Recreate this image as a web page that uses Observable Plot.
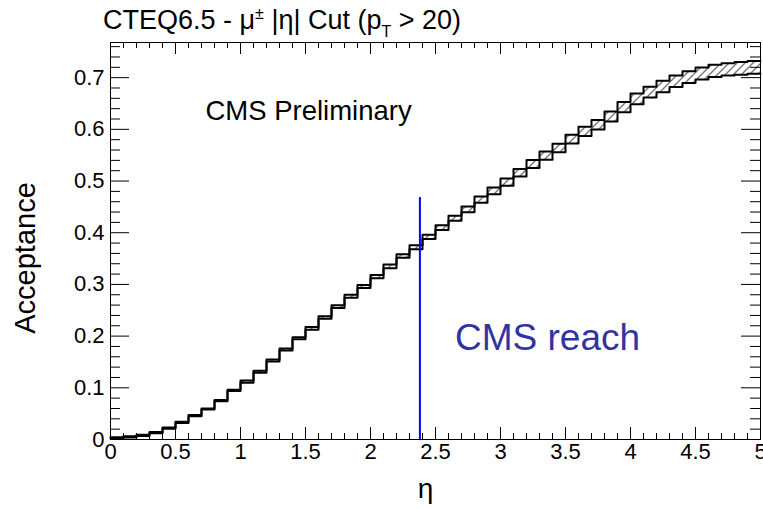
<!DOCTYPE html>
<html>
<head>
<meta charset="utf-8">
<script src="https://cdn.jsdelivr.net/npm/d3@7"></script>
<script src="https://cdn.jsdelivr.net/npm/@observablehq/plot@0.6"></script>
<style>
  html, body { margin: 0; padding: 0; background: #fff; }
  #chart svg { display: block; }
</style>
</head>
<body>
<div id="chart"></div>
<script>
// Muon acceptance vs |eta| cut, CTEQ6.5 PDF uncertainty band (upper / lower edges per bin)
const etaLow = [
  0.0, 0.1, 0.2, 0.3, 0.4, 0.5, 0.6, 0.7, 0.8, 0.9,
  1.0, 1.1, 1.2, 1.3, 1.4, 1.5, 1.6, 1.7, 1.8, 1.9,
  2.0, 2.1, 2.2, 2.3, 2.4, 2.5, 2.6, 2.7, 2.8, 2.9,
  3.0, 3.1, 3.2, 3.3, 3.4, 3.5, 3.6, 3.7, 3.8, 3.9,
  4.0, 4.1, 4.2, 4.3, 4.4, 4.5, 4.6, 4.7, 4.8, 4.9
];
const etaMax = 5.0;

const upper = [
  0.0042, 0.0062, 0.0092, 0.0147, 0.0232, 0.0342, 0.0472, 0.0602, 0.0762, 0.0962,
  0.1140, 0.1330, 0.1550, 0.1760, 0.1980, 0.2175, 0.2385, 0.2595, 0.2800, 0.2990,
  0.3180, 0.3385, 0.3585, 0.3760, 0.3960, 0.4145, 0.4330, 0.4505, 0.4700, 0.4875,
  0.5050, 0.5233, 0.5406, 0.5570, 0.5723, 0.5896, 0.6050, 0.6183, 0.6346, 0.6530,
  0.6693, 0.6826, 0.6940, 0.7042, 0.7124, 0.7196, 0.7248, 0.7280, 0.7302, 0.7324
];
const lower = [
  0.0018, 0.0038, 0.0068, 0.0123, 0.0208, 0.0318, 0.0448, 0.0578, 0.0738, 0.0938,
  0.1100, 0.1290, 0.1510, 0.1720, 0.1940, 0.2125, 0.2335, 0.2545, 0.2740, 0.2930,
  0.3120, 0.3315, 0.3515, 0.3680, 0.3880, 0.4055, 0.4230, 0.4395, 0.4580, 0.4745,
  0.4910, 0.5087, 0.5254, 0.5410, 0.5557, 0.5724, 0.5870, 0.5997, 0.6154, 0.6330,
  0.6487, 0.6614, 0.6720, 0.6818, 0.6896, 0.6964, 0.7012, 0.7040, 0.7058, 0.7076
];

const cmsReachEta = 2.38;
const cmsReachTop = 0.468;

const xMajorTicks = [0, 0.5, 1, 1.5, 2, 2.5, 3, 3.5, 4, 4.5, 5];
const xTickLabels = ["0", "0.5", "1", "1.5", "2", "2.5", "3", "3.5", "4", "4.5", "5"];
const yMajorTicks = [0, 0.1, 0.2, 0.3, 0.4, 0.5, 0.6, 0.7];
const yTickLabels = ["0", "0.1", "0.2", "0.3", "0.4", "0.5", "0.6", "0.7"];
const xMinorTicks = d3.range(0, 51).map(i => i / 10).filter(v => Math.round(v * 10) % 5 !== 0);
const yMinorTicks = d3.range(0, 39).map(i => i / 50).filter(v => Math.round(v * 50) % 5 !== 0);

// histogram table: one row per bin low edge, closed by the last edge
const rows = etaLow.map((x, i) => ({x, hi: upper[i], lo: lower[i]}));
rows.push({x: etaMax, hi: upper[upper.length - 1], lo: lower[lower.length - 1]});

const W = 763, H = 509;
const mL = 110, mR = 3, mT = 42, mB = 70;
const frameW = W - mL - mR, frameH = H - mT - mB;
const font = "'Liberation Sans', Arial, Helvetica, sans-serif";

const chart = Plot.plot({
  width: W,
  height: H,
  marginLeft: mL,
  marginRight: mR,
  marginTop: mT,
  marginBottom: mB,
  style: {fontFamily: font, background: "#fff", color: "#000", overflow: "visible"},
  x: {domain: [0, etaMax], axis: null},
  y: {domain: [0, 0.768], axis: null},
  marks: [
    // hatched PDF band
    Plot.areaY(rows, {x: "x", y1: "lo", y2: "hi", curve: "step-after", fill: "url(#hatch)"}),
    Plot.lineY(rows, {x: "x", y: "hi", curve: "step-after", stroke: "#000", strokeWidth: 2}),
    Plot.lineY(rows, {x: "x", y: "lo", curve: "step-after", stroke: "#000", strokeWidth: 2}),
    // CMS muon coverage
    Plot.ruleX([cmsReachEta], {y1: 0, y2: cmsReachTop, stroke: "#0000ff", strokeWidth: 2}),
    Plot.frame({stroke: "#000", strokeWidth: 1}),
    // inward ticks on all four sides
    Plot.tickX(xMajorTicks, {x: d => d, insetTop: frameH - 12, stroke: "#000"}),
    Plot.tickX(xMinorTicks, {x: d => d, insetTop: frameH - 6, stroke: "#000"}),
    Plot.tickX(xMajorTicks, {x: d => d, insetBottom: frameH - 12, stroke: "#000"}),
    Plot.tickX(xMinorTicks, {x: d => d, insetBottom: frameH - 6, stroke: "#000"}),
    Plot.tickY(yMajorTicks, {y: d => d, insetRight: frameW - 19, stroke: "#000"}),
    Plot.tickY(yMinorTicks, {y: d => d, insetRight: frameW - 10, stroke: "#000"}),
    Plot.tickY(yMajorTicks, {y: d => d, insetLeft: frameW - 19, stroke: "#000"}),
    Plot.tickY(yMinorTicks, {y: d => d, insetLeft: frameW - 10, stroke: "#000"}),
    // tick labels
    Plot.axisX({ticks: xMajorTicks, tickSize: 0, tickPadding: 4, fontSize: 22,
      tickFormat: d => xTickLabels[xMajorTicks.indexOf(d)], label: null}),
    Plot.axisY({ticks: yMajorTicks, tickSize: 0, tickPadding: 6, fontSize: 22,
      tickFormat: d => yTickLabels[yMajorTicks.indexOf(d)], label: null}),
    // axis titles
    Plot.text(["η"], {frameAnchor: "bottom", dx: -10, dy: 58, fontSize: 28, fill: "#000"}),
    Plot.text(["Acceptance"], {frameAnchor: "left", textAnchor: "middle", rotate: -90,
      dx: -85, dy: 17, fontSize: 29, fill: "#000"}),
    // annotations
    Plot.text(["CMS Preliminary"], {x: 0.73, y: 0.636, textAnchor: "start", fontSize: 27.5, fill: "#000"}),
    Plot.text(["CMS reach"], {x: 2.65, y: 0.197, textAnchor: "start", fontSize: 37, fill: "#33339f"})
  ]
});

const svg = d3.select(chart);

// diagonal hatch used by the band fill
const defs = svg.insert("defs", ":first-child");
defs.append("pattern")
  .attr("id", "hatch")
  .attr("patternUnits", "userSpaceOnUse")
  .attr("width", 8)
  .attr("height", 8)
  .append("path")
  .attr("d", "M-2,2 L2,-2 M0,8 L8,0 M6,10 L10,6")
  .attr("stroke", "#777")
  .attr("stroke-width", 1.4);

// title with superscript charge and subscript T
const title = svg.append("text")
  .attr("x", 103)
  .attr("y", 29)
  .attr("text-anchor", "start")
  .attr("font-family", font)
  .attr("font-size", 27)
  .attr("fill", "#000");
title.append("tspan").text("CTEQ6.5 - μ");
title.append("tspan").attr("font-size", 16).attr("dy", -10).text("±");
title.append("tspan").attr("dy", 10).text(" |η| Cut (p");
title.append("tspan").attr("font-size", 16).attr("dy", 8).text("T");
title.append("tspan").attr("dy", -8).text(" > 20)");

document.getElementById("chart").append(chart);
</script>
</body>
</html>
